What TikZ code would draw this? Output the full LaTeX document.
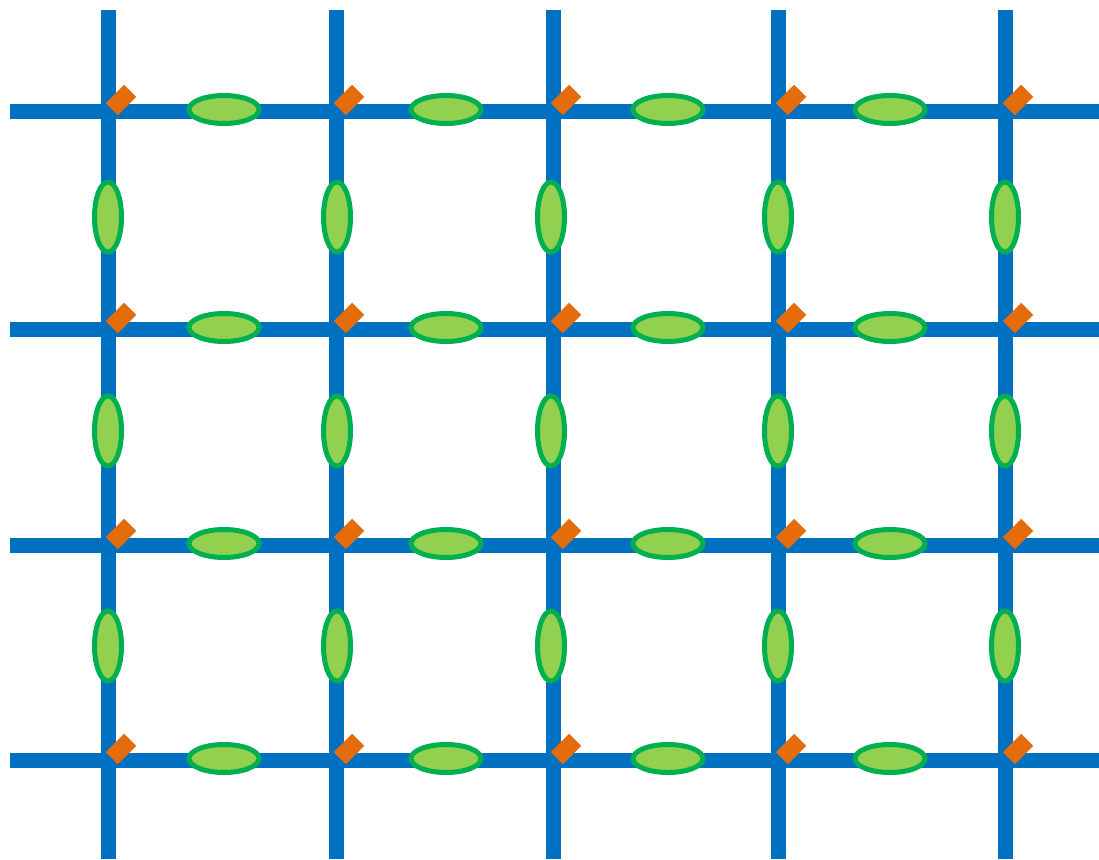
\documentclass[tikz,border=0pt]{standalone}
\usetikzlibrary{shapes.geometric}
\definecolor{gridblue}{HTML}{0070C0}
\definecolor{ringgreen}{HTML}{00B050}
\definecolor{fillgreen}{HTML}{92D050}
\definecolor{tagorange}{HTML}{E46C0A}
\tikzset{
  gridline/.style={draw=gridblue, line width=15pt},
  hell/.style={ellipse, draw=ringgreen, fill=fillgreen, line width=5pt, minimum width=70pt, minimum height=28pt, inner sep=0pt},
  vell/.style={ellipse, draw=ringgreen, fill=fillgreen, line width=5pt, minimum width=27pt, minimum height=70pt, inner sep=0pt},
  tag/.style={rectangle, fill=tagorange, minimum width=26pt, minimum height=17pt, inner sep=0pt, outer sep=0pt, rotate=45},
}
\begin{document}
\begin{tikzpicture}[x=1pt,y=-1pt]
\useasboundingbox (0,0) rectangle (1099,859);
\def\xs{108,336,553,778,1005}
\def\ys{111,329,545,760}
% vertical lines
\foreach \x [count=\i] in \xs {
  \coordinate (vt\i) at (\x,10);
  \coordinate (vb\i) at (\x,859);
  \draw[gridline] (vt\i) -- (vb\i);
}
% horizontal lines
\foreach \y [count=\j] in \ys {
  \coordinate (hl\j) at (10,\y);
  \coordinate (hr\j) at (1099,\y);
  \draw[gridline] (hl\j) -- (hr\j);
}
% orange tags
\foreach \x [count=\i] in \xs {
  \foreach \y [count=\j] in \ys {
    \node[tag] (t\i\j) at (\x+13,\y-11) {};
  }
}
% horizontal ellipses
\foreach \x [count=\i] in {224,446,668,890} {
  \foreach \y [count=\j] in \ys {
    \node[hell] (h\i\j) at (\x,\y-1.5) {};
  }
}
% vertical ellipses
\foreach \x [count=\i] in {108,337,551,778,1005} {
  \foreach \y [count=\j] in {217,431,646} {
    \node[vell] (v\i\j) at (\x,\y) {};
  }
}
\end{tikzpicture}
\end{document}
